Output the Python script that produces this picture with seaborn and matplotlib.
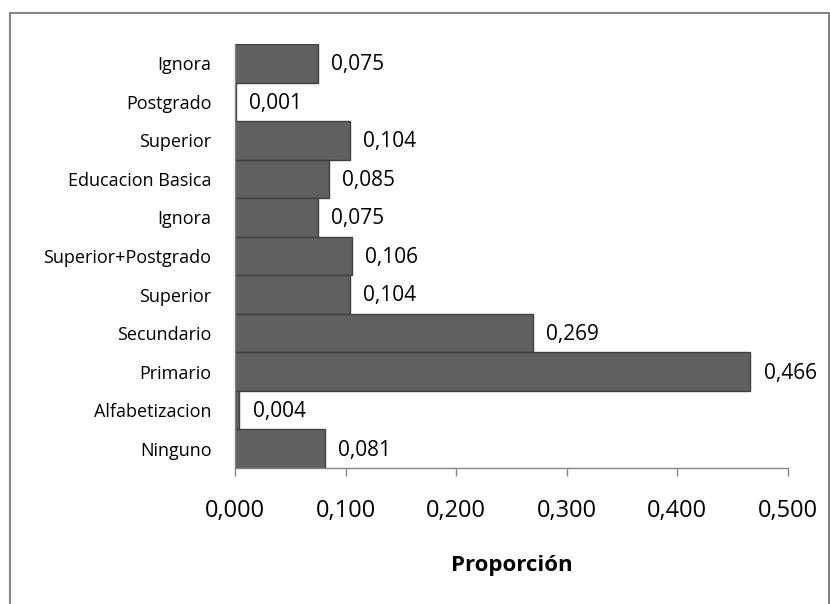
import matplotlib
matplotlib.use("Agg")
import matplotlib.pyplot as plt
import seaborn as sns
import pandas as pd
from matplotlib.patches import Rectangle

# Data (top to bottom)
categories = ["Ignora", "Postgrado", "Superior", "Educacion Basica", "Ignora",
              "Superior+Postgrado", "Superior", "Secundario", "Primario",
              "Alfabetizacion", "Ninguno"]
values = [0.075, 0.001, 0.104, 0.085, 0.075, 0.106, 0.104, 0.269, 0.466, 0.004, 0.081]
x_ticks = [0.0, 0.1, 0.2, 0.3, 0.4, 0.5]
x_label = "Proporción"

sns.set_theme(style="white")
plt.rcParams['font.family'] = ['Open Sans', 'DejaVu Sans']

keys = [f"k{i}" for i in range(len(categories))]
df = pd.DataFrame({"key": keys, "value": values})

fig = plt.figure(figsize=(8.3, 6.04), dpi=100)
ax = fig.add_axes([235/830, 1-468/604, (788-235)/830, (468-44)/604])

sns.barplot(data=df, y="key", x="value", order=keys, orient="h",
            color="#606060", edgecolor="#404040", linewidth=1.0,
            width=1.0, saturation=1, ax=ax)

ax.set_yticks(range(len(categories)))
ax.set_yticklabels(categories, fontsize=13, color="#000000")
ax.set_ylabel("")
ax.set_xlim(0, 0.5)
ax.set_ylim(len(categories)-0.5, -0.5)
ax.set_xticks(x_ticks)
ax.set_xticklabels([f"{t:.3f}".replace(".", ",") for t in x_ticks], fontsize=17, color="#000000")
ax.set_xlabel(x_label, fontsize=16, fontweight="bold", color="#000000", va="center")
ax.xaxis.set_label_coords(0.5, (468-565)/424)

for s in ["top", "right"]:
    ax.spines[s].set_visible(False)
for s in ["left", "bottom"]:
    ax.spines[s].set_color("#868686")
    ax.spines[s].set_linewidth(1.0)
ax.tick_params(axis="x", direction="out", length=6, color="#868686", width=1, pad=16, bottom=True)
ax.tick_params(axis="y", length=0, pad=17)

for i, v in enumerate(values):
    ax.annotate(f"{v:.3f}".replace(".", ","), xy=(v, i), xytext=(9.5, -1),
                textcoords="offset points", va="center", ha="left", fontsize=15,
                color="#000000")

fig.patches.append(Rectangle((10/830, -0.01), (829-10)/830, 1-13/604 + 0.01,
                             transform=fig.transFigure, fill=False,
                             edgecolor="#868686", linewidth=1.5))

fig.savefig("out.png", dpi=100)
